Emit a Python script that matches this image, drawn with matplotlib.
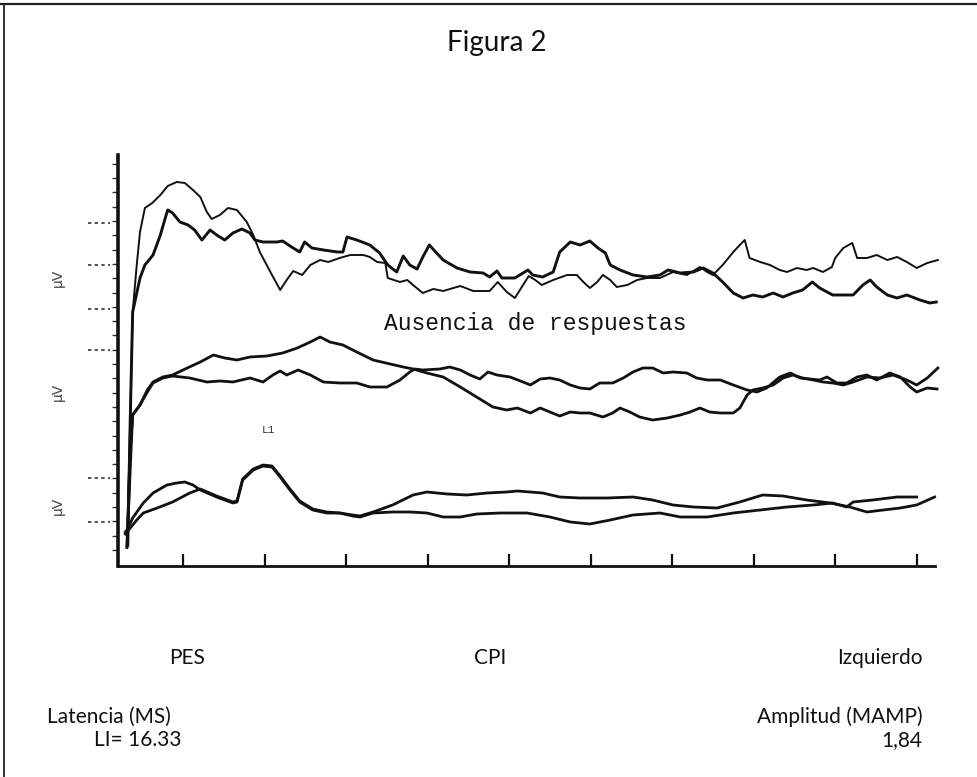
import numpy as np
import matplotlib
matplotlib.use("Agg")
import matplotlib.pyplot as plt
from matplotlib.lines import Line2D
import matplotlib.transforms as mtransforms

# ---- Data: time (ms) and amplitude (arbitrary units, offset per channel) ----
top_a_t = [1.2, 1.5, 1.8, 2.7, 3.3, 4.3, 5.2, 5.8, 6.1, 6.7, 7.6, 8.6, 9.4, 10.3, 11.3, 12.1, 13.1, 14.1,
           15.2, 16.2, 16.8, 17.8, 19.5, 20.2, 21.3, 22.3, 22.9, 23.8, 25.2, 26.9, 27.6, 28.1, 29.3, 30.9,
           32.1, 33.1, 34.2, 35.0, 35.8, 36.7, 37.4, 38.2, 39.1, 39.9, 41.6, 43.2, 44.8, 45.6, 46.5, 47.1,
           48.7, 50.3, 50.9, 52.1, 53.4, 54.2, 55.5, 56.7, 57.9, 58.9, 59.8, 60.4, 61.6, 63.2, 64.9, 66.5,
           67.5, 69.0, 70.6, 71.8, 73.0, 74.2, 75.5, 76.7, 77.9, 79.1, 80.4, 81.6, 82.8, 84.0, 85.2, 86.1,
           87.7, 89.0, 90.2, 91.4, 92.3, 93.1, 94.4, 95.6, 96.8, 98.4, 99.6, 100.4]
top_a_v = [2.1, 14.6, 25.4, 28.8, 30.1, 31.1, 33.1, 34.8, 35.6, 35.3, 34.4, 34.1, 33.6, 32.6, 33.6, 33.1, 32.6, 33.3,
           33.7, 33.3, 32.6, 32.4, 32.4, 32.5, 31.9, 31.4, 32.4, 31.8, 31.6, 31.4, 31.4, 32.9, 32.6, 32.1,
           31.3, 30.1, 29.4, 31.0, 30.1, 29.7, 30.9, 32.1, 31.3, 30.6, 29.8, 29.4, 29.3, 28.9, 29.5, 28.8,
           28.8, 29.6, 29.1, 28.9, 29.4, 31.4, 32.4, 32.1, 32.5, 31.8, 31.3, 30.1, 29.6, 29.1, 28.9, 29.1,
           29.6, 29.3, 29.4, 29.8, 29.3, 28.4, 27.3, 26.8, 27.1, 26.9, 27.3, 26.9, 27.3, 27.6, 28.4, 27.8,
           27.1, 27.1, 27.1, 28.1, 28.6, 27.9, 27.1, 26.8, 27.1, 26.6, 26.3, 26.4]

top_b_t = [1.1, 1.5, 1.8, 2.3, 2.7, 3.3, 4.2, 5.2, 6.1, 7.2, 8.2, 9.2, 10.1, 10.9, 11.5, 12.5, 13.5, 14.6,
           15.8, 16.6, 17.4, 18.7, 19.9, 20.7, 21.5, 22.6, 23.6, 24.8, 25.8, 27.2, 28.5, 30.1, 30.9, 31.8,
           32.8, 33.1, 34.6, 35.5, 36.2, 37.4, 38.7, 39.9, 42.0, 43.6, 45.6, 46.6, 47.7, 48.7, 49.7, 50.4,
           51.2, 52.0, 53.4, 55.1, 56.3, 57.1, 57.9, 58.8, 59.5, 60.4, 61.2, 62.5, 63.7, 64.9, 66.5, 68.1,
           69.8, 71.4, 72.3, 73.0, 74.2, 75.5, 76.3, 76.9, 77.5, 78.8, 80.0, 81.2, 82.1, 83.3, 84.5, 85.3,
           86.5, 87.6, 88.0, 89.0, 90.1, 90.7, 91.9, 93.1, 94.4, 95.6, 96.8, 98.0, 99.3, 100.6]
top_b_v = [1.8, 14.6, 25.4, 30.1, 33.4, 35.8, 36.3, 37.1, 38.0, 38.4, 38.3, 37.6, 36.9, 35.4, 34.7, 35.1, 35.8, 35.6,
           34.4, 33.1, 31.4, 29.4, 27.6, 28.6, 29.5, 29.1, 30.1, 30.6, 30.4, 30.8, 31.1, 31.1, 30.9, 30.4,
           30.3, 28.8, 28.4, 28.6, 28.1, 27.3, 27.7, 27.5, 28.0, 27.5, 27.5, 28.4, 27.4, 26.8, 28.1, 29.0,
           28.6, 28.1, 28.6, 29.1, 29.1, 28.4, 27.8, 28.4, 29.1, 28.6, 27.9, 28.1, 28.6, 28.8, 28.8, 29.4,
           29.1, 29.9, 29.4, 29.1, 30.1, 31.4, 32.1, 32.6, 30.8, 30.4, 30.1, 29.6, 29.4, 29.8, 29.6, 29.8,
           29.4, 29.9, 30.8, 31.8, 32.3, 30.8, 30.8, 31.1, 30.6, 30.9, 30.4, 29.8, 30.3, 30.6]

mid_c_t = [1.1, 1.5, 1.8, 2.7, 3.6, 4.3, 5.5, 6.7, 8.5, 10.1, 11.7, 13.1, 14.6, 16.2, 18.3, 20.2, 22.0, 23.6,
           24.8, 26.0, 27.6, 29.3, 31.3, 33.4, 35.0, 36.2, 37.9, 39.9, 42.0, 44.0, 46.0, 47.7, 49.0, 50.6,
           51.8, 53.0, 54.2, 55.5, 56.7, 57.9, 59.5, 60.7, 61.6, 62.8, 64.0, 65.6, 67.4, 69.0, 70.2, 71.4,
           72.6, 73.9, 75.5, 76.3, 77.2, 77.9, 79.1, 80.4, 81.6, 82.8, 84.0, 85.3, 86.5, 87.7, 89.0, 90.2,
           91.9, 93.5, 95.1, 96.8, 98.0, 99.3, 100.6]
mid_c_v = [1.9, 11.6, 15.1, 16.1, 17.6, 18.4, 18.9, 19.1, 19.8, 20.4, 21.1, 20.8, 20.6, 20.9, 21.0, 21.3, 21.8, 22.4,
           22.9, 22.4, 22.1, 21.4, 20.6, 20.2, 19.9, 19.7, 19.3, 18.9, 17.9, 16.9, 15.9, 15.6, 15.8, 15.3,
           15.8, 15.4, 15.0, 15.4, 15.3, 15.3, 14.9, 15.3, 15.8, 15.4, 14.9, 14.6, 14.8, 15.1, 15.4, 15.8,
           15.4, 15.3, 15.3, 15.8, 17.1, 17.6, 17.8, 18.1, 18.8, 19.1, 18.8, 18.6, 18.4, 18.3, 18.1, 18.4,
           18.9, 18.8, 19.1, 18.6, 18.1, 18.8, 19.8]

mid_d_t = [1.1, 1.6, 1.8, 2.7, 3.6, 4.3, 5.5, 6.7, 8.8, 10.9, 12.5, 14.1, 16.2, 17.8, 19.0, 19.9, 20.7, 22.1,
           23.6, 25.2, 27.2, 29.3, 30.9, 33.0, 34.6, 35.8, 36.4, 37.4, 39.5, 40.7, 42.0, 43.2, 44.4, 45.4,
           46.5, 48.1, 49.7, 50.6, 51.8, 53.0, 54.2, 55.5, 56.7, 57.9, 59.1, 60.7, 62.0, 63.2, 64.4, 65.6,
           66.9, 68.1, 69.8, 71.0, 72.3, 73.9, 75.5, 77.2, 78.4, 79.6, 81.2, 82.5, 83.7, 84.9, 86.1, 87.0,
           88.2, 89.4, 90.7, 91.9, 93.1, 94.7, 96.0, 97.2, 98.0, 99.3, 100.5]
mid_d_v = [1.9, 11.6, 15.1, 16.1, 17.4, 18.3, 18.8, 19.0, 18.8, 18.4, 18.5, 18.4, 18.8, 18.4, 19.1, 19.5, 19.1, 19.6,
           19.1, 18.4, 18.3, 18.3, 17.9, 17.9, 18.6, 19.4, 19.7, 19.6, 19.7, 19.9, 19.6, 19.1, 18.7, 19.4,
           19.1, 18.9, 18.4, 18.1, 18.7, 18.8, 18.6, 18.1, 17.8, 17.7, 18.3, 18.3, 18.8, 19.4, 19.8, 19.8,
           19.3, 19.4, 19.3, 18.8, 18.6, 18.6, 18.1, 17.6, 17.4, 17.8, 18.9, 19.3, 18.8, 18.7, 18.6, 18.9,
           18.3, 18.3, 18.9, 19.1, 18.6, 19.3, 18.9, 17.9, 17.4, 17.8, 17.7]

bot_e_t = [0.9, 1.1, 1.8, 3.1, 4.3, 6.0, 7.2, 8.2, 9.2, 10.1, 12.1, 14.1, 14.6, 15.3, 16.6, 17.8, 18.9, 19.9,
           21.1, 22.3, 23.9, 25.6, 27.2, 28.8, 29.7, 31.3, 33.7, 36.2, 37.9, 40.4, 42.8, 45.3, 47.7, 49.0,
           52.1, 54.2, 56.7, 60.0, 63.2, 65.6, 68.1, 70.6, 73.5, 76.3, 79.1, 81.6, 84.5, 87.4, 89.8, 91.9,
           93.9, 96.0, 98.0, 100.2]
bot_e_v = [3.4, 3.6, 4.8, 6.3, 7.3, 8.1, 8.3, 8.4, 8.1, 7.6, 6.9, 6.3, 6.4, 8.6, 9.6, 10.0, 9.9, 8.9,
           7.6, 6.4, 5.6, 5.3, 5.3, 5.1, 5.0, 5.4, 6.1, 7.1, 7.4, 7.2, 7.1, 7.3, 7.4, 7.5,
           7.3, 6.9, 6.8, 6.8, 6.9, 6.6, 6.1, 5.9, 5.8, 6.4, 7.1, 7.0, 6.6, 6.3, 5.9, 5.4,
           5.6, 5.8, 6.1, 6.9]

bot_f_t = [0.9, 1.1, 2.3, 3.1, 4.8, 6.7, 8.8, 10.1, 12.1, 14.1, 14.6, 15.3, 16.6, 17.8, 18.9, 19.9, 21.1, 22.3,
           23.9, 25.6, 27.2, 28.8, 29.7, 31.3, 33.7, 35.8, 37.9, 39.9, 42.0, 44.0, 46.9, 50.2, 53.0, 55.5,
           57.9, 60.4, 63.2, 66.5, 69.0, 72.3, 75.5, 78.8, 82.1, 85.3, 87.7, 89.4, 90.2, 92.6, 95.6, 98.0]
bot_f_v = [3.2, 3.4, 4.6, 5.3, 5.8, 6.4, 7.3, 7.7, 7.0, 6.4, 6.5, 8.7, 9.7, 10.1, 10.0, 9.0, 7.7, 6.5,
           5.7, 5.4, 5.3, 5.0, 4.9, 5.3, 5.4, 5.4, 5.3, 4.9, 4.9, 5.2, 5.3, 5.3, 4.9, 4.4,
           4.2, 4.6, 5.1, 5.3, 4.9, 4.9, 5.3, 5.6, 5.9, 6.1, 6.3, 5.9, 6.4, 6.6, 6.9, 6.9]

x_ticks = [8, 18, 28, 38, 48, 58, 68, 78, 88, 98]
scale_marks = [34.3, 30.1, 25.7, 21.6, 8.8, 4.4]
unit_label_pos = [28.8, 17.4, 6.0]

title = "Figura 2"
note = "Ausencia de respuestas"
peak_label = "L1"

# ---- Figure ----
fig = plt.figure(figsize=(9.78, 7.77), dpi=100)
fig.patch.set_facecolor("white")
ax = fig.add_axes([0.12065, 0.27156, 0.83538, 0.52896])
ax.set_xlim(0, 100.25)
ax.set_ylim(0, 41.1)
ax.set_facecolor("none")

ink = "#111111"
ax.plot(top_a_t, top_a_v, color=ink, lw=2.1, solid_joinstyle="round", clip_on=False)
ax.plot(top_b_t, top_b_v, color=ink, lw=1.4, solid_joinstyle="round", clip_on=False)
ax.plot(mid_c_t, mid_c_v, color=ink, lw=2.0, solid_joinstyle="round", clip_on=False)
ax.plot(mid_d_t, mid_d_v, color=ink, lw=2.0, solid_joinstyle="round", clip_on=False)
ax.plot(bot_e_t, bot_e_v, color=ink, lw=2.0, solid_joinstyle="round", clip_on=False)
ax.plot(bot_f_t, bot_f_v, color=ink, lw=2.0, solid_joinstyle="round", clip_on=False)

for s in ["top", "right"]:
    ax.spines[s].set_visible(False)
ax.spines["left"].set_linewidth(2.6)
ax.spines["bottom"].set_linewidth(2.0)
ax.spines["left"].set_color(ink)
ax.spines["bottom"].set_color(ink)

ax.set_xticks(x_ticks)
ax.set_xticklabels([])
ax.tick_params(axis="x", direction="in", length=9, width=1.6, color=ink)
ax.set_yticks(np.arange(1.6, 41.2, 1.43))
ax.set_yticklabels([])
ax.tick_params(axis="y", direction="out", length=4, width=1.0, color="#333333")

# dotted scale marks at left
trans = mtransforms.blended_transform_factory(ax.transAxes, ax.transData)
for yv in scale_marks:
    ax.plot([-0.037, -0.010], [yv, yv], transform=trans, color="#333333", lw=1.2,
            ls=(0, (2, 2)), clip_on=False)
for yv in unit_label_pos:
    ax.text(-0.074, yv, "μV", transform=trans, rotation=90, fontsize=10,
            color="#444444", ha="center", va="center", family="DejaVu Sans")

ax.text(32.7, 24.2, note, fontsize=16.5, family="Liberation Mono", color=ink,
        ha="left", va="center")
ax.text(18.4, 13.6, peak_label, fontsize=8, family="Liberation Mono", color="#333333",
        ha="center", va="center")

# ---- Page texts ----
tf = "Lato"
fs = 15
fig.text(0.508, 0.945, title, fontsize=20, family=tf, ha="center", va="center", color=ink)
fig.text(0.191, 0.153, "PES", fontsize=fs, family=tf, ha="center", va="center", color=ink)
fig.text(0.501, 0.153, "CPI", fontsize=fs, family=tf, ha="center", va="center", color=ink)
fig.text(0.943, 0.153, "Izquierdo", fontsize=fs, family=tf, ha="right", va="center", color=ink)
fig.text(0.048, 0.077, "Latencia (MS)", fontsize=fs, family=tf, ha="left", va="center", color=ink)
fig.text(0.186, 0.048, "LI= 16.33", fontsize=fs, family=tf, ha="right", va="center", color=ink)
fig.text(0.943, 0.077, "Amplitud (MAMP)", fontsize=fs, family=tf, ha="right", va="center", color=ink)
fig.text(0.943, 0.048, "1,84", fontsize=fs, family=tf, ha="right", va="center", color=ink)

# page border (scan frame)
fig.add_artist(Line2D([0.0, 1.0], [0.9945, 0.9945], transform=fig.transFigure, color="#222222", lw=1.6))
fig.add_artist(Line2D([0.0037, 0.0037], [0.0, 0.995], transform=fig.transFigure, color="#222222", lw=1.3))

fig.savefig("out.png", dpi=100, facecolor="white")
